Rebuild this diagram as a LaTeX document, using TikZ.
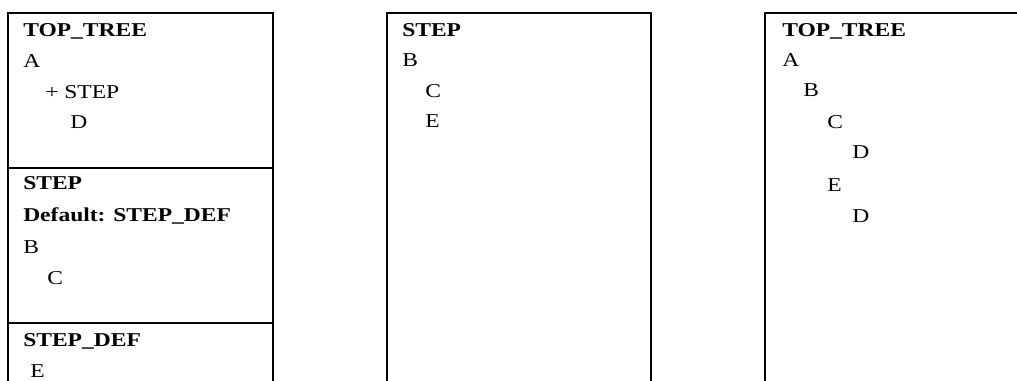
\documentclass[tikz,border=0pt]{standalone}
\usepackage{fontspec}
\setmainfont[FakeStretch=1.2]{Liberation Serif}
\usepackage{tikz}
\tikzset{
  base/.style={font=\fontsize{14.7}{17}\selectfont, inner sep=0pt, anchor=base west, text=black},
  head/.style={base, font=\fontsize{14.7}{17}\selectfont\bfseries},
  frame/.style={draw=black, line width=1.5pt},
}
\begin{document}
\begin{tikzpicture}[x=0.75pt,y=-0.75pt]
  \useasboundingbox (0,0) rectangle (1017,381);
  % left column: definitions
  \draw[frame] (8,381) -- (8,13) -- (273,13) -- (273,381);
  \draw[frame] (8,168) -- (273,168);
  \draw[frame] (8,323) -- (273,323);
  \node[head] (ltop)   at (23,37)    {TOP\_TREE};
  \node[base] (la)     at (23,68)    {A};
  \node[base] (lstep)  at (45,99)    {+ STEP};
  \node[base] (ld)     at (70,129)   {D};
  \node[head] (sstep)  at (23,190)   {STEP};
  \node[head] (sdef)   at (23,221.5) {Default: STEP\_DEF};
  \node[base] (sb)     at (23,253)   {B};
  \node[base] (sc)     at (47,284.5) {C};
  \node[head] (dstep)  at (23,346.5) {STEP\_DEF};
  \node[base] (de)     at (30,377)   {E};
  % middle column: resolved step
  \draw[frame] (387,381) -- (387,13) -- (651,13) -- (651,381);
  \node[head] (mstep)  at (402,37)   {STEP};
  \node[base] (mb)     at (402,67)   {B};
  \node[base] (mc)     at (425,98)   {C};
  \node[base] (me)     at (425,128)  {E};
  % right column: expanded tree
  \draw[frame] (765,381) -- (765,13) -- (1017,13);
  \node[head] (rtop)   at (782,37)   {TOP\_TREE};
  \node[base] (ra)     at (782,67)   {A};
  \node[base] (rb)     at (803,97)   {B};
  \node[base] (rc)     at (827,129)  {C};
  \node[base] (rd1)    at (852,159)  {D};
  \node[base] (re)     at (827,191)  {E};
  \node[base] (rd2)    at (852,222)  {D};
\end{tikzpicture}
\end{document}
